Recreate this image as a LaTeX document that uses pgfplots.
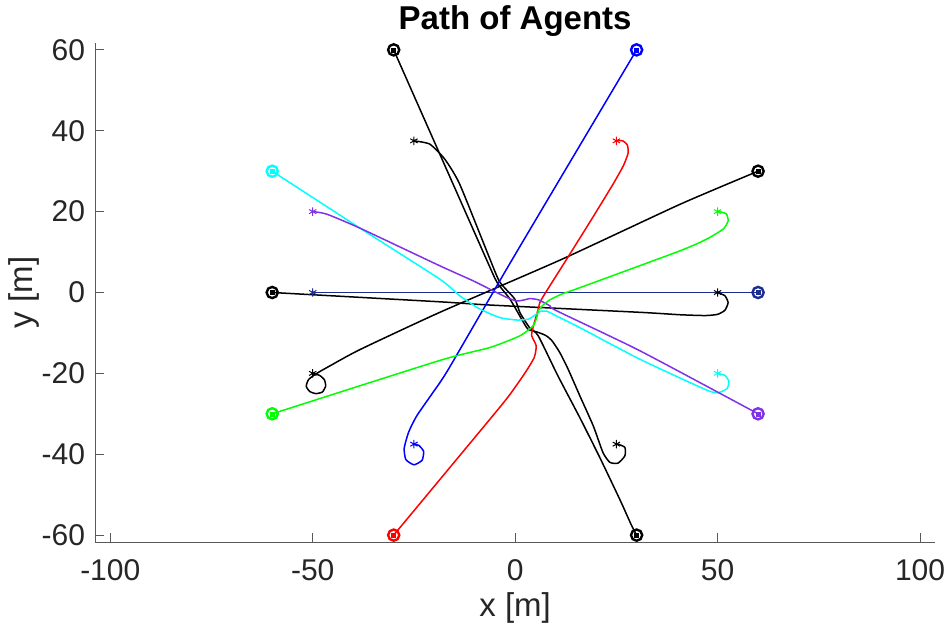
\documentclass[border=0pt]{standalone}
\usepackage{fontspec}
\setmainfont{Liberation Sans}
\usepackage{pgfplots}
\pgfplotsset{compat=1.18}
\definecolor{navy}{RGB}{28,45,145}
\definecolor{violet2}{RGB}{128,51,230}
\definecolor{mycyan}{RGB}{0,255,255}
\definecolor{mygreen}{RGB}{0,255,0}
\definecolor{axgray}{RGB}{38,38,38}
\pgfplotsset{
  path/.style={line width=1.5pt, smooth, tension=0.35, mark=none},
  circ/.style={only marks, mark=o, mark size=5.6pt, mark options={line width=2.4pt}},
  dot/.style={only marks, mark=square*, mark size=2pt},
  star/.style={only marks, mark=asterisk, mark size=4.2pt, mark options={line width=1pt}},
}
\begin{document}
\begin{tikzpicture}
\begin{axis}[
  scale only axis, width=839.7pt, height=499pt,
  xmin=-103.7, xmax=103.7, ymin=-61.7, ymax=61.7,
  clip=false,
  axis x line=bottom, axis y line=left,
  axis line style={-, draw=black!65, line width=1pt},
  xtick={-100,-50,0,50,100}, xticklabels={-100,-50,0,50,100},
  ytick={-60,-40,-20,0,20,40,60}, yticklabels={-60,-40,-20,0,20,40,60},
  tick align=inside, major tick length=9pt,
  tick style={draw=black!65, line width=1pt},
  every tick label/.append style={font=\fontsize{30}{36}\selectfont, text=axgray, inner sep=0pt},
  xticklabel style={anchor=base, yshift=-38pt},
  yticklabel style={anchor=east, xshift=-10pt},
]
% navy: (60,0) -> (-50,0)
\addplot[line width=1.5pt, navy, mark=none] coordinates {(60,0) (-50,0)};
% black: (-60,0) -> (50,0)
\addplot[path, black] coordinates {(-60,0) (-18.6,-2.3) (-6.2,-3.1) (30.8,-4.9) (40.7,-5.5) (47,-5.7) (50,-5.4) (51.8,-4.4) (52.6,-2.5) (51.8,-0.8) (50,0)};
% black: (60,30) -> (-50,-20)
\addplot[path, black] coordinates {(60,30) (40.7,21.8) (11.5,8.2) (-18.6,-4.9) (-38.3,-14.1) (-45.5,-18) (-49,-20) (-51,-21.5) (-51.6,-23.2) (-50.7,-24.5) (-49.2,-25) (-47.6,-24.6) (-46.8,-23.1) (-47.1,-21.6) (-48.3,-20.5) (-50,-20)};
% black: (-30,60) -> (25,-37.5)
\addplot[path, black] coordinates {(-30,60) (-7.1,8.2) (-4.4,2.4) (-1.3,-1.6) (1.6,-6.6) (3.2,-9.1) (5.5,-9.8) (7.5,-10.6) (9,-11.8) (11,-14.8) (13.1,-19) (16,-25.6) (19.3,-33) (21.7,-39.6) (23.4,-42) (25.4,-42.2) (27.1,-40.4) (27.1,-38.3) (25.4,-37.5) (25,-37.5)};
% black: (30,-60) -> (-25,37.5)
\addplot[path, black] coordinates {(30,-60) (28.7,-57.5) (26,-51.5) (21,-41) (16,-31) (10.5,-20.5) (5.7,-10.7) (3.5,-8.6) (1.2,-5) (-0.1,-1.6) (-3.8,2.6) (-6.2,8.2) (-13.7,26.8) (-17.4,33) (-21.1,36.7) (-25,37.5)};
% blue: (30,60) -> (-25,-37.5)
\addplot[path, blue] coordinates {(30,60) (-0.7,8.2) (-16.5,-19) (-20.5,-25) (-24.3,-30.5) (-26.3,-34.5) (-27.4,-38.5) (-27,-41.3) (-25,-42.6) (-23,-41.5) (-22.6,-39.3) (-23.8,-37.8) (-25,-37.5)};
% red: (-30,-60) -> (25,37.5)
\addplot[path, red] coordinates {(-30,-60) (-6.2,-31.3) (-1.5,-25.5) (2.5,-19.8) (4.7,-16.1) (5.2,-13.2) (4.1,-10.7) (4.4,-8.7) (5.7,-4.1) (6.5,-1.7) (12.7,8.2) (19,18.3) (24.3,27) (26.8,31.5) (27.9,34.5) (27.7,36.5) (26.6,37.5) (25,37.5)};
% cyan: (-60,30) -> (50,-20)
\addplot[path, mycyan] coordinates {(-60,30) (-38.3,15.9) (-18.6,3.3) (-13.7,-0.8) (-8.7,-4.1) (-3.8,-6.2) (0.35,-6.8) (3.2,-6.6) (4.9,-5.6) (6.1,-4.7) (7.75,-4.6) (10.2,-5.8) (16,-8.7) (30.8,-16.5) (47,-24) (50,-24.8) (52.3,-23.8) (52.8,-22) (51.8,-20.5) (50,-20)};
% violet: (60,-30) -> (-50,20)
\addplot[path, violet2] coordinates {(60,-30) (30.8,-14.4) (10.2,-4.5) (8.6,-3.3) (5.7,-1.8) (3.6,-1.5) (2.4,-1.8) (0.35,-2.1) (-2.1,-1.2) (-5.4,0.4) (-10.4,2.9) (-18.6,6.6) (-38.3,15.9) (-46.6,19.4) (-50,20)};
% green: (-60,-30) -> (50,20)
\addplot[path, mygreen] coordinates {(-60,-30) (-18.6,-16.8) (-6.2,-13.6) (1.2,-10.7) (4.4,-8.3) (5.4,-6) (5.7,-4.5) (6.9,-3.1) (8.6,-1.8) (11.5,-0.4) (16,1.2) (40.7,10.3) (47.3,13.2) (51.4,15.7) (52.6,17.7) (52.2,19.4) (50.9,19.9) (50,20)};
% start markers
\addplot[circ, navy] coordinates {(60,0)};
\addplot[dot, navy] coordinates {(60,0)};
\addplot[circ, black] coordinates {(-60,0) (60,30) (-30,60) (30,-60)};
\addplot[dot, black] coordinates {(-60,0) (60,30) (-30,60) (30,-60)};
\addplot[circ, blue] coordinates {(30,60)};
\addplot[dot, blue] coordinates {(30,60)};
\addplot[circ, red] coordinates {(-30,-60)};
\addplot[dot, red] coordinates {(-30,-60)};
\addplot[circ, mycyan] coordinates {(-60,30)};
\addplot[dot, mycyan] coordinates {(-60,30)};
\addplot[circ, violet2] coordinates {(60,-30)};
\addplot[dot, violet2] coordinates {(60,-30)};
\addplot[circ, mygreen] coordinates {(-60,-30)};
\addplot[dot, mygreen] coordinates {(-60,-30)};
% end markers
\addplot[star, navy] coordinates {(-50,0)};
\addplot[star, black] coordinates {(50,0) (-50,-20) (25,-37.5) (-25,37.5)};
\addplot[star, blue] coordinates {(-25,-37.5)};
\addplot[star, red] coordinates {(25,37.5)};
\addplot[star, mycyan] coordinates {(50,-20)};
\addplot[star, violet2] coordinates {(-50,20)};
\addplot[star, mygreen] coordinates {(50,20)};
% title and labels
\node[anchor=base, yshift=13.4pt, font=\bfseries\fontsize{33}{40}\selectfont, text=black] at (rel axis cs:0.5,1) {Path of Agents};
\node[anchor=base, yshift=-74pt, font=\fontsize{33}{40}\selectfont, text=axgray] at (rel axis cs:0.5,0) {x [m]};
\node[xshift=-63pt, anchor=base, rotate=90, font=\fontsize{33}{40}\selectfont, text=axgray] at (rel axis cs:0,0.5) {y [m]};
\end{axis}
\pgfresetboundingbox
\path[use as bounding box] (-95.3pt,-93pt) rectangle (854.7pt,542pt);
\end{tikzpicture}
\end{document}
